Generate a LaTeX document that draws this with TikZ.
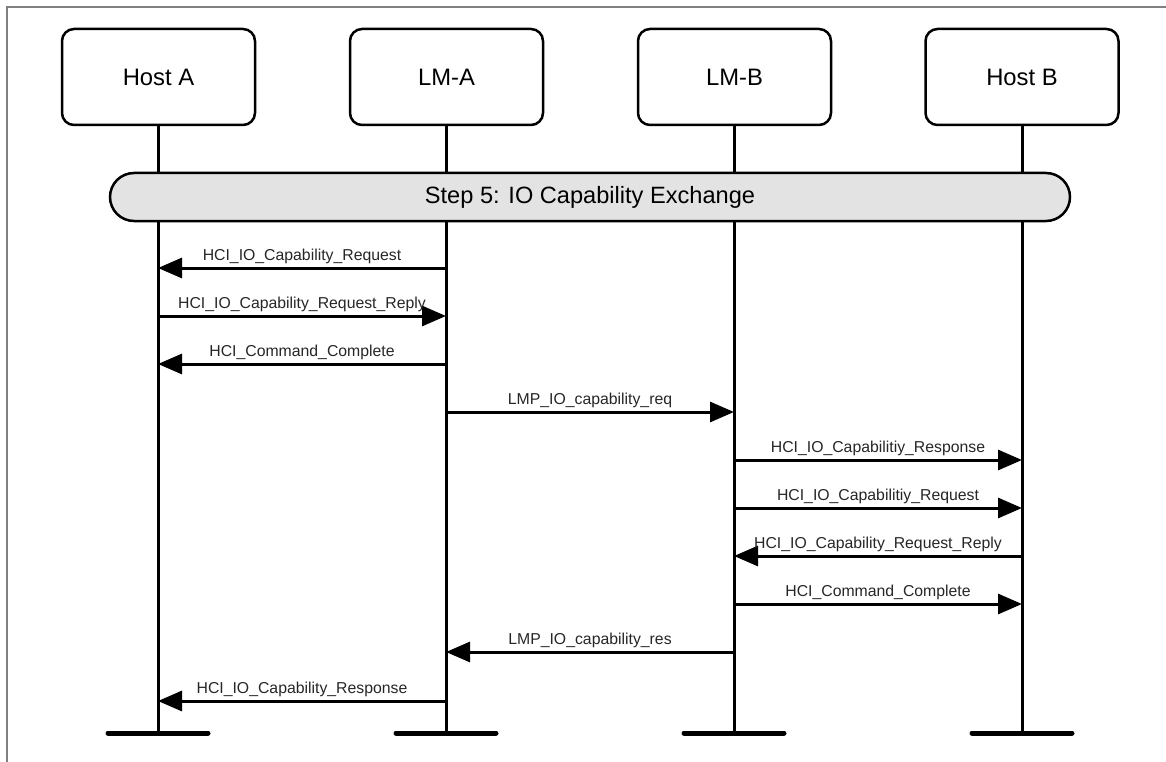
\documentclass[tikz,border=0pt]{standalone}
\usepackage{fontspec}
\setmainfont{Liberation Sans}
\usetikzlibrary{arrows.meta}
\usetikzlibrary{positioning}

\begin{document}
\begin{tikzpicture}[x=1pt,y=-1pt,
    entity node/.style={draw,line width=2.5pt,rounded corners=12pt,minimum width=193pt,minimum height=96pt,font=\fontsize{23.8}{28}\selectfont},
    step node/.style={draw,line width=2.5pt,rounded corners=24pt,fill=black!11,minimum width=960pt,minimum height=48pt,font=\fontsize{23.6}{26}\selectfont},
    life line/.style={line width=3pt},
    end bar/.style={line width=5pt,line cap=round},
    msg/.style={-{Triangle[length=24pt,width=20pt]},line width=3pt},
    msg label/.style={above=1.5pt,inner sep=1pt,text=black!85,font=\fontsize{15.8}{17}\selectfont}]
  \useasboundingbox (0,0) rectangle (1166,762);
  \draw[black!50,line width=1.2pt] (7,762) -- (7,7) -- (1166,7);
  % entities
  \node[entity node] (hA) at (158.5,77) {Host A};
  \node[entity node] (lA) at (446.5,77) {LM-A};
  \node[entity node] (lB) at (734.5,77) {LM-B};
  \node[entity node] (hB) at (1022,77) {Host B};
  % ends of the life lines
  \coordinate (eA) at (158,733);
  \coordinate (eLA) at (446,733);
  \coordinate (eLB) at (734,733);
  \coordinate (eB) at (1022,733);
  \draw[life line] (hA.south -| eA) -- (eA);
  \draw[life line] (lA.south -| eLA) -- (eLA);
  \draw[life line] (lB.south -| eLB) -- (eLB);
  \draw[life line] (hB.south -| eB) -- (eB);
  \draw[end bar] ([xshift=-50pt]eA) -- ([xshift=50pt]eA);
  \draw[end bar] ([xshift=-50pt]eLA) -- ([xshift=50pt]eLA);
  \draw[end bar] ([xshift=-50pt]eLB) -- ([xshift=50pt]eLB);
  \draw[end bar] ([xshift=-50pt]eB) -- ([xshift=50pt]eB);
  \node[step node] (step) at (590,197) {Step 5: IO Capability Exchange};
  % message rows
  \coordinate (m1) at (0,268);
  \coordinate (m2) at (0,316);
  \coordinate (m3) at (0,364);
  \coordinate (m4) at (0,412);
  \coordinate (m5) at (0,460);
  \coordinate (m6) at (0,508);
  \coordinate (m7) at (0,556);
  \coordinate (m8) at (0,604);
  \coordinate (m9) at (0,652);
  \coordinate (m10) at (0,701);
  \path[msg] (eLA |- m1) edge node[msg label] {HCI\_IO\_Capability\_Request} (eA |- m1);
  \path[msg] (eA |- m2) edge node[msg label] {HCI\_IO\_Capability\_Request\_Reply} (eLA |- m2);
  \path[msg] (eLA |- m3) edge node[msg label] {HCI\_Command\_Complete} (eA |- m3);
  \path[msg] (eLA |- m4) edge node[msg label] {LMP\_IO\_capability\_req} (eLB |- m4);
  \path[msg] (eLB |- m5) edge node[msg label] {HCI\_IO\_Capabilitiy\_Response} (eB |- m5);
  \path[msg] (eLB |- m6) edge node[msg label] {HCI\_IO\_Capabilitiy\_Request} (eB |- m6);
  \path[msg] (eB |- m7) edge node[msg label] {HCI\_IO\_Capability\_Request\_Reply} (eLB |- m7);
  \path[msg] (eLB |- m8) edge node[msg label] {HCI\_Command\_Complete} (eB |- m8);
  \path[msg] (eLB |- m9) edge node[msg label] {LMP\_IO\_capability\_res} (eLA |- m9);
  \path[msg] (eLA |- m10) edge node[msg label] {HCI\_IO\_Capability\_Response} (eA |- m10);
\end{tikzpicture}
\end{document}
